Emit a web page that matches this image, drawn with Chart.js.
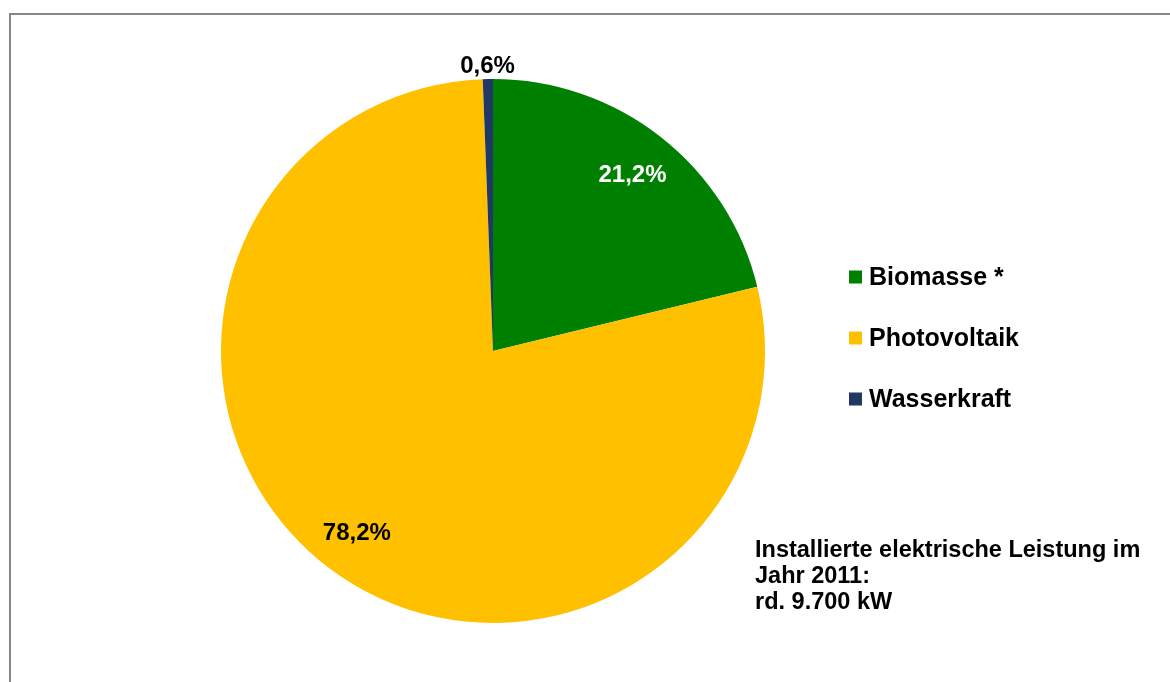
<!DOCTYPE html>
<html>
<head>
<meta charset="utf-8">
<script src="https://cdn.jsdelivr.net/npm/chart.js"></script>
<style>
  body { margin: 0; background: #fff; overflow: hidden; }
  #frame { position: absolute; left: 9px; top: 13px; width: 1200px; height: 700px; border: 2px solid #878787; }
  #pieChart { position: absolute; left: 0; top: 0; }
</style>
</head>
<body>
<div id="frame"></div>
<canvas id="pieChart" width="1170" height="682"></canvas>
<script>
// Anteile installierte Leistung 2011
var labels = ['Biomasse *', 'Photovoltaik', 'Wasserkraft'];
var shares = [21.2, 78.2, 0.6];
var colors = ['#008000', '#FFC000', '#1F3864'];
var labelColors = ['#FFFFFF', '#000000', '#000000'];
var noteLines = ['Installierte elektrische Leistung im', 'Jahr 2011:', 'rd. 9.700 kW'];

var fontFamily = '"Liberation Sans", Arial, sans-serif';

var extras = {
    id: 'extras',
    afterDraw: function (chart) {
        var ctx = chart.ctx;
        var meta = chart.getDatasetMeta(0);
        ctx.save();
        ctx.textAlign = 'center';
        ctx.textBaseline = 'middle';
        ctx.font = 'bold 24px ' + fontFamily;
        meta.data.forEach(function (arc, i) {
            var p = arc.getProps(['x', 'y', 'startAngle', 'endAngle', 'outerRadius']);
            var mid = (p.startAngle + p.endAngle) / 2;
            var small = shares[i] < 2;
            var dist = small ? p.outerRadius + 15 : p.outerRadius * 0.83;
            ctx.fillStyle = small ? '#000' : labelColors[i];
            var txt = shares[i].toFixed(1).replace('.', ',') + '%';
            ctx.fillText(txt, p.x + Math.cos(mid) * dist, p.y + Math.sin(mid) * dist + 2);
        });

        // legend
        ctx.textAlign = 'left';
        ctx.textBaseline = 'alphabetic';
        ctx.font = 'bold 25px ' + fontFamily;
        labels.forEach(function (lab, i) {
            var cy = 277 + i * 61;
            ctx.fillStyle = colors[i];
            ctx.fillRect(849, cy - 6.5, 13, 13);
            ctx.fillStyle = '#000';
            ctx.fillText(lab, 869, cy + 8);
        });

        // note
        ctx.font = 'bold 23.5px ' + fontFamily;
        noteLines.forEach(function (line, i) {
            ctx.fillText(line, 755, 557 + i * 26);
        });
        ctx.restore();
    }
};

var ctx = document.getElementById('pieChart').getContext('2d');
var pieChart = new Chart(ctx, {
    type: 'pie',
    data: {
        labels: labels,
        datasets: [{
            data: shares,
            backgroundColor: colors,
            borderWidth: 0
        }]
    },
    options: {
        responsive: false,
        animation: false,
        events: [],
        layout: {
            padding: { left: 221, right: 405, top: 79, bottom: 59 }
        },
        plugins: {
            legend: { display: false },
            tooltip: { enabled: false }
        }
    },
    plugins: [extras]
});
</script>
</body>
</html>
